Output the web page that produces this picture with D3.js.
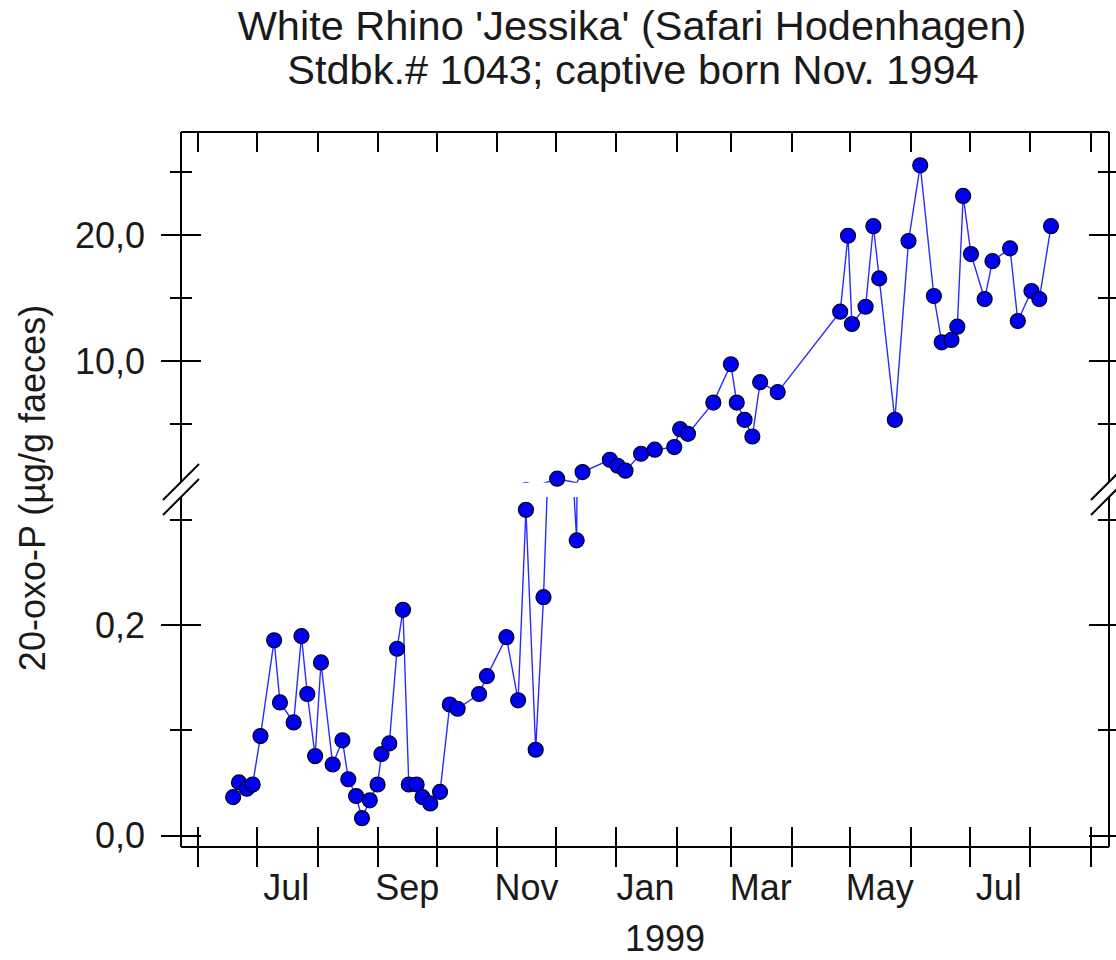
<!DOCTYPE html>
<html lang="en">
<head>
<meta charset="UTF-8" />
<title>White Rhino 'Jessika' (Safari Hodenhagen)</title>
<script src="https://d3js.org/d3.v7.min.js"></script>
<style>
  html, body { margin: 0; padding: 0; background: #fff; }
  svg { display: block; font-family: "Liberation Sans", Arial, sans-serif; }
  .frame line, .tick line { stroke: #000; stroke-width: 2px; shape-rendering: crispEdges; }
  .txt { fill: #1a1a1a; }
</style>
</head>
<body>
<div id="chart"></div>
<script>
// sampling dates and 20-oxo-P values (µg/g faeces)
const sampleDates = [
  "1998-06-19","1998-06-22","1998-06-26","1998-06-29","1998-07-03","1998-07-10","1998-07-13",
  "1998-07-20","1998-07-24","1998-07-27","1998-07-31","1998-08-03","1998-08-09","1998-08-14",
  "1998-08-17","1998-08-21","1998-08-24","1998-08-28","1998-09-01","1998-09-03","1998-09-07",
  "1998-09-11","1998-09-14","1998-09-17","1998-09-21","1998-09-24","1998-09-28","1998-10-03",
  "1998-10-08","1998-10-12","1998-10-23","1998-10-27","1998-11-06","1998-11-12","1998-11-16",
  "1998-11-21","1998-11-25","1998-12-02","1998-12-12","1998-12-15","1998-12-29","1999-01-02",
  "1999-01-06","1999-01-14","1999-01-21","1999-01-31","1999-02-03","1999-02-07","1999-02-20",
  "1999-03-01","1999-03-04","1999-03-08","1999-03-12","1999-03-16","1999-03-25","1999-04-26",
  "1999-04-30","1999-05-02","1999-05-09","1999-05-13","1999-05-16","1999-05-24","1999-05-31",
  "1999-06-06","1999-06-13","1999-06-17","1999-06-22","1999-06-25","1999-06-28","1999-07-02",
  "1999-07-09","1999-07-13","1999-07-22","1999-07-26","1999-08-02","1999-08-06","1999-08-12"
];
const oxoValues = [
  0.036, 0.050, 0.044, 0.048, 0.094, 0.185, 0.126,
  0.107, 0.189, 0.134, 0.075, 0.164, 0.067, 0.090,
  0.053, 0.037, 0.016, 0.033, 0.048, 0.077, 0.087,
  0.177, 0.214, 0.048, 0.048, 0.036, 0.030, 0.041,
  0.124, 0.120, 0.134, 0.151, 0.188, 0.128, 0.309,
  0.081, 0.226, 0.60, 0.280, 1.13, 2.10, 1.63,
  1.24, 2.58, 2.90, 3.11, 4.53, 4.16, 6.64,
  9.68, 6.64, 5.27, 3.95, 8.26, 7.47, 13.85,
  19.87, 12.87, 14.24, 20.63, 16.49, 5.27, 19.45,
  25.46, 15.09, 11.42, 11.61, 12.66, 23.03, 18.42,
  14.85, 17.86, 18.87, 13.11, 15.49, 14.85, 20.63
];

// axis values and labels
const upperTicks = [5, 10, 15, 20, 25];
const upperLabelled = [10, 20];
const lowerTicks = [0, 0.1, 0.2, 0.3];
const lowerLabelled = [0, 0.2];
const monthLabelDates = ["1998-07-16","1998-09-16","1998-11-16","1999-01-16","1999-03-16","1999-05-16","1999-07-16"];
const monthLabels = ["Jul", "Sep", "Nov", "Jan", "Mar", "May", "Jul"];

const titleLines = ["White Rhino 'Jessika' (Safari Hodenhagen)", "Stdbk.# 1043; captive born Nov. 1994"];
const yTitle = "20-oxo-P (µg/g faeces)";
const xTitle = "1999";

const breakValue = 0.33;   // values above go to the upper panel

const width = 1116, height = 960;
const plotLeft = 181, plotRight = 1109, plotTop = 132, plotBottom = 847;
const upperBottom = 482, lowerTop = 497;

const parse = d3.timeParse("%Y-%m-%d");
const data = sampleDates.map((d, i) => ({ date: parse(d), value: oxoValues[i] }));

const x = d3.scaleTime()
  .domain([new Date(1998, 4, 23, 7), new Date(1999, 8, 10, 17)])
  .range([plotLeft, plotRight]);
const yHigh = d3.scaleLinear().domain([0.34, 28.1]).range([upperBottom, plotTop]);
const yLow = d3.scaleLinear().domain([-0.0114, 0.3212]).range([plotBottom, lowerTop]);

const fmt = d3.formatLocale({ decimal: ",", thousands: ".", grouping: [3], currency: ["", "€"] }).format(".1f");

const svg = d3.select("#chart").append("svg")
  .attr("width", width)
  .attr("height", height)
  .attr("viewBox", `0 0 ${width} ${height}`);

const defs = svg.append("defs");
defs.append("clipPath").attr("id", "clipHigh").append("rect")
  .attr("x", plotLeft).attr("y", plotTop)
  .attr("width", plotRight - plotLeft).attr("height", upperBottom + 0.8 - plotTop);
defs.append("clipPath").attr("id", "clipLow").append("rect")
  .attr("x", plotLeft).attr("y", lowerTop)
  .attr("width", plotRight - plotLeft).attr("height", plotBottom - lowerTop);

// titles
svg.append("text").attr("class", "txt")
  .attr("x", 632).attr("y", 40)
  .attr("text-anchor", "middle").attr("font-size", 41.5)
  .text(titleLines[0]);
svg.append("text").attr("class", "txt")
  .attr("x", 633).attr("y", 84)
  .attr("text-anchor", "middle").attr("font-size", 41.5)
  .text(titleLines[1]);

// y axes (both panels, left and right)
function yAxis(scale, ticks, labelled, side) {
  const ax = (side === "left" ? d3.axisLeft(scale) : d3.axisRight(scale))
    .tickValues(ticks)
    .tickSize(0)
    .tickPadding(36)
    .tickFormat(d => (side === "left" && labelled.includes(d)) ? fmt(d) : "");
  const g = svg.append("g")
    .attr("transform", `translate(${side === "left" ? plotLeft : plotRight},0)`)
    .call(ax);
  g.select(".domain").remove();
  g.selectAll(".tick line")
    .attr("x1", d => labelled.includes(d) ? -20 : -11)
    .attr("x2", d => labelled.includes(d) ? 20 : 11);
  g.selectAll(".tick text")
    .attr("class", "txt")
    .attr("font-size", 36)
    .attr("dy", "0.36em");
}
yAxis(yHigh, upperTicks, upperLabelled, "left");
yAxis(yLow, lowerTicks, lowerLabelled, "left");
yAxis(yHigh, upperTicks, upperLabelled, "right");
yAxis(yLow, lowerTicks, lowerLabelled, "right");

// x axis: month ticks crossing the bottom, inside the top
const months = d3.timeMonth.range(x.domain()[0], x.domain()[1]);
const xb = svg.append("g")
  .attr("transform", `translate(0,${plotBottom})`)
  .call(d3.axisBottom(x).tickValues(months).tickSize(0).tickFormat(""));
xb.select(".domain").remove();
xb.selectAll(".tick line").attr("y1", -20).attr("y2", 20);

const xt = svg.append("g")
  .attr("transform", `translate(0,${plotTop})`)
  .call(d3.axisBottom(x).tickValues(months).tickSize(20).tickFormat(""));
xt.select(".domain").remove();

const xl = svg.append("g")
  .attr("transform", `translate(0,${plotBottom})`)
  .call(d3.axisBottom(x)
    .tickValues(monthLabelDates.map(parse))
    .tickSize(0)
    .tickPadding(27)
    .tickFormat((d, i) => monthLabels[i]));
xl.select(".domain").remove();
xl.selectAll(".tick text").attr("class", "txt").attr("font-size", 36).attr("dy", "0.71em");

// frame with axis break
const frame = svg.append("g").attr("class", "frame");
frame.append("line").attr("x1", plotLeft).attr("x2", plotRight).attr("y1", plotTop).attr("y2", plotTop);
frame.append("line").attr("x1", plotLeft).attr("x2", plotRight).attr("y1", plotBottom).attr("y2", plotBottom);
[plotLeft, plotRight].forEach(xx => {
  frame.append("line").attr("x1", xx).attr("x2", xx).attr("y1", plotTop).attr("y2", upperBottom);
  frame.append("line").attr("x1", xx).attr("x2", xx).attr("y1", lowerTop).attr("y2", plotBottom);
  [upperBottom, lowerTop].forEach(yy => {
    frame.append("line")
      .style("shape-rendering", "auto")
      .attr("x1", xx - 18).attr("y1", yy + 18)
      .attr("x2", xx + 18).attr("y2", yy - 18);
  });
});

// series, drawn in each panel and clipped
const lineHigh = d3.line().x(d => x(d.date)).y(d => yHigh(d.value));
const lineLow = d3.line().x(d => x(d.date)).y(d => yLow(d.value));

svg.append("path").datum(data)
  .attr("clip-path", "url(#clipHigh)")
  .attr("fill", "none").attr("stroke", "#2b2bff").attr("stroke-width", 1.4)
  .attr("d", lineHigh);
svg.append("path").datum(data)
  .attr("clip-path", "url(#clipLow)")
  .attr("fill", "none").attr("stroke", "#2b2bff").attr("stroke-width", 1.4)
  .attr("d", lineLow);

svg.append("g").selectAll("circle")
  .data(data)
  .join("circle")
  .attr("cx", d => x(d.date))
  .attr("cy", d => d.value > breakValue ? yHigh(d.value) : yLow(d.value))
  .attr("r", 7.5)
  .attr("fill", "#0000f0")
  .attr("stroke", "#000020")
  .attr("stroke-width", 1.2);

// axis titles
svg.append("text").attr("class", "txt")
  .attr("transform", "translate(45,488) rotate(-90)")
  .attr("text-anchor", "middle").attr("font-size", 36)
  .text(yTitle);
svg.append("text").attr("class", "txt")
  .attr("x", 665).attr("y", 951)
  .attr("text-anchor", "middle").attr("font-size", 36)
  .text(xTitle);
</script>
</body>
</html>
